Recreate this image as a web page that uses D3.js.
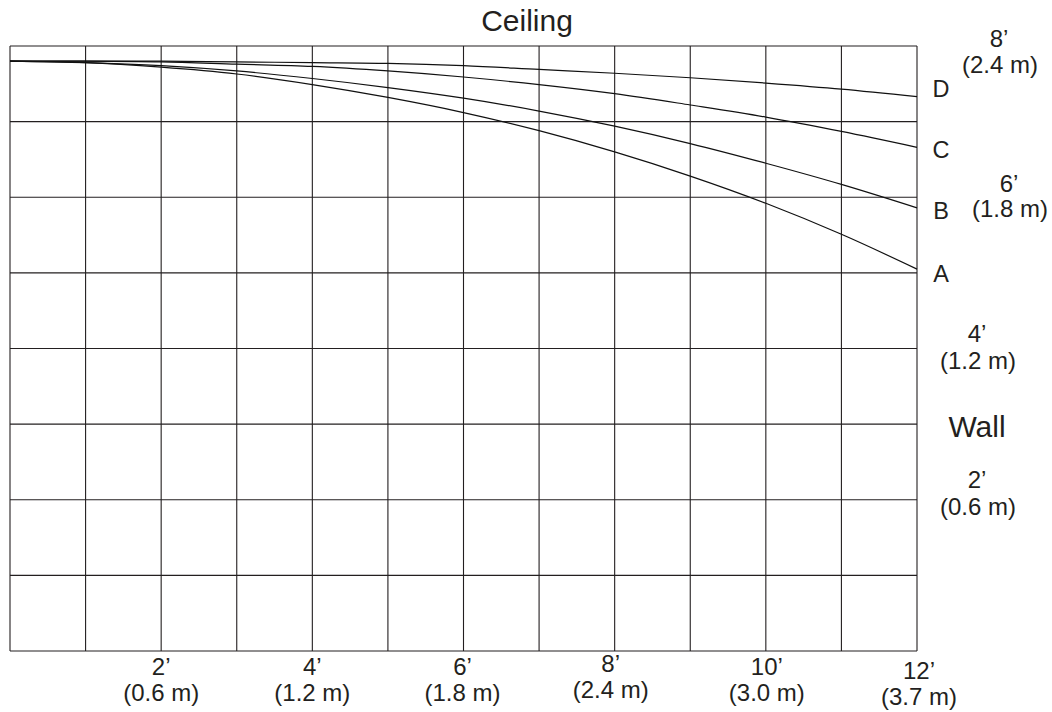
<!DOCTYPE html>
<html>
<head>
<meta charset="utf-8">
<script src="https://cdn.jsdelivr.net/npm/d3@7"></script>
<style>
  body { margin: 0; background: #fff; }
  text { font-family: "Liberation Sans", Arial, Helvetica, sans-serif; fill: #231f20; }
</style>
</head>
<body>
<div id="chart"></div>
<script>
// Data: throw distance (ft) vs. beam height (ft) for the four settings
var distanceFt = [0, 1, 2, 3, 4, 5, 6, 7, 8, 9, 10, 11, 12];
var curveA = [7.80, 7.78, 7.72, 7.63, 7.49, 7.32, 7.12, 6.88, 6.60, 6.28, 5.92, 5.51, 5.05];
var curveB = [7.80, 7.78, 7.74, 7.67, 7.57, 7.45, 7.31, 7.14, 6.94, 6.71, 6.45, 6.17, 5.86];
var curveC = [7.80, 7.80, 7.79, 7.76, 7.73, 7.67, 7.59, 7.49, 7.37, 7.22, 7.06, 6.87, 6.66];
var curveD = [7.80, 7.80, 7.80, 7.79, 7.78, 7.77, 7.74, 7.69, 7.64, 7.58, 7.51, 7.43, 7.33];
var curveNames = ["A", "B", "C", "D"];

// grid and tick labels
var gridX = [0, 1, 2, 3, 4, 5, 6, 7, 8, 9, 10, 11, 12];
var gridY = [0, 1, 2, 3, 4, 5, 6, 7, 8];
var xTickFt = [2, 4, 6, 8, 10, 12];
var xTickFtLabels = ["2’", "4’", "6’", "8’", "10’", "12’"];
var xTickMLabels = ["(0.6 m)", "(1.2 m)", "(1.8 m)", "(2.4 m)", "(3.0 m)", "(3.7 m)"];
var yTickFt = [8, 6, 4, 2];
var yTickFtLabels = ["8’", "6’", "4’", "2’"];
var yTickMLabels = ["(2.4 m)", "(1.8 m)", "(1.2 m)", "(0.6 m)"];

var svgWidth = 1052;
var svgHeight = 712;

var svg = d3.select("#chart")
    .append("svg")
    .attr("width", svgWidth)
    .attr("height", svgHeight);

svg.append("rect")
    .attr("width", svgWidth)
    .attr("height", svgHeight)
    .attr("fill", "#fff");

var xScale = d3.scaleLinear().domain([0, 12]).range([10, 917]);
var yScale = d3.scaleLinear().domain([0, 8]).range([651, 46]);

// grid
var grid = svg.append("g").attr("stroke", "#231f20").attr("stroke-width", 1.1);

grid.selectAll(".vline")
    .data(gridX)
    .enter()
    .append("line")
        .attr("x1", d => xScale(d))
        .attr("x2", d => xScale(d))
        .attr("y1", yScale(0))
        .attr("y2", yScale(8));

grid.selectAll(".hline")
    .data(gridY)
    .enter()
    .append("line")
        .attr("x1", xScale(0))
        .attr("x2", xScale(12))
        .attr("y1", d => yScale(d))
        .attr("y2", d => yScale(d));

// curves
var series = [curveA, curveB, curveC, curveD];

var line = d3.line()
    .x((d, i) => xScale(distanceFt[i]))
    .y(d => yScale(d))
    .curve(d3.curveCatmullRom.alpha(0.5));

svg.selectAll(".curve")
    .data(series)
    .enter()
    .append("path")
        .attr("d", d => line(d))
        .attr("fill", "none")
        .attr("stroke", "#111")
        .attr("stroke-width", 1.2);

// curve labels (A..D), nudged below curve ends
var labelDy = [13, 11, 10.5, 0];
svg.selectAll(".clabel")
    .data(curveNames)
    .enter()
    .append("text")
        .attr("x", 941)
        .attr("y", (d, i) => yScale(series[i][series[i].length - 1]) + labelDy[i])
        .attr("text-anchor", "middle")
        .attr("font-size", "23.5px")
        .text(d => d);

// bottom labels
var xDy = [0, 0, 0, -3, 0, 4];
var xDx = [0, 0, -1, -4, 1, 2];
var bottom = svg.append("g");
xTickFt.forEach(function(v, i) {
    bottom.append("text")
        .attr("x", xScale(v) + xDx[i])
        .attr("y", 675 + xDy[i])
        .attr("text-anchor", "middle")
        .attr("font-size", "24px")
        .text(xTickFtLabels[i]);
    bottom.append("text")
        .attr("x", xScale(v) + xDx[i])
        .attr("y", 701 + xDy[i])
        .attr("text-anchor", "middle")
        .attr("font-size", "24px")
        .text(xTickMLabels[i]);
});

// right-hand height labels
var rightX = [999, 1009, 977, 977];
var rightDy = [1, -5, -7, -12];
var rightGap = [26, 25, 27, 27];
var right = svg.append("g");
yTickFt.forEach(function(v, i) {
    var y0 = yScale(v) + rightDy[i];
    right.append("text")
        .attr("x", rightX[i])
        .attr("y", y0)
        .attr("text-anchor", "middle")
        .attr("font-size", "24px")
        .text(yTickFtLabels[i]);
    right.append("text")
        .attr("x", rightX[i] + 1)
        .attr("y", y0 + rightGap[i])
        .attr("text-anchor", "middle")
        .attr("font-size", "24px")
        .text(yTickMLabels[i]);
});

// titles
svg.append("text")
    .attr("x", 527)
    .attr("y", 31)
    .attr("text-anchor", "middle")
    .attr("font-size", "30px")
    .text("Ceiling");

svg.append("text")
    .attr("x", 977)
    .attr("y", 437)
    .attr("text-anchor", "middle")
    .attr("font-size", "30px")
    .text("Wall");
</script>
</body>
</html>
